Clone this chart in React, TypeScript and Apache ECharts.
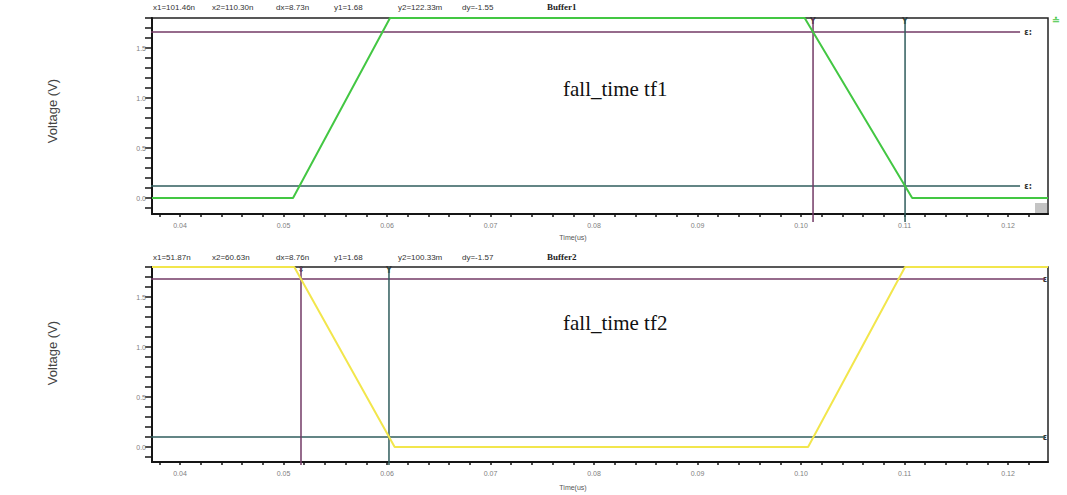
import React, { useEffect, useRef } from "react";
import * as echarts from "echarts";

// ---- axis ticks (time in µs, voltage in V) ----
const xMajorTicks = [0.04, 0.05, 0.06, 0.07, 0.08, 0.09, 0.1, 0.11, 0.12];
const xTickLabels = ["0.04", "0.05", "0.06", "0.07", "0.08", "0.09", "0.10", "0.11", "0.12"];
const yMajorTicks = [0.0, 0.5, 1.0, 1.5];
const yTickLabels = ["0.0", "0.5", "1.0", "1.5"];
const xRange = [0.037295, 0.12386];
const yRange1 = [-0.16, 1.8];
const yRange2 = [-0.15, 1.8];

// ---- waveforms ----
const buffer1Time = [0.037295, 0.05092, 0.06029, 0.10035, 0.11074, 0.12386];
const buffer1Volt = [0.0, 0.0, 1.8, 1.8, 0.0, 0.0];
const buffer2Time = [0.037295, 0.05104, 0.06074, 0.10068, 0.11005, 0.12386];
const buffer2Volt = [1.8, 1.8, 0.0, 0.0, 1.8, 1.8];

// ---- cursors ----
const cursor1X = [0.10116, 0.11005]; // x1, x2
const cursor1Y = [1.66, 0.12]; // y1, y2
const cursor2X = [0.05169, 0.06019];
const cursor2Y = [1.68, 0.1];
const hLineSpan1 = [0.03536, 0.12116];
const hLineSpan2 = [0.03536, 0.1236];
const vLineSpan1 = [1.8, -0.24];
const vLineSpan2 = [1.8, -0.18];

// ---- texts ----
const header1 = ["x1=101.46n", "x2=110.30n", "dx=8.73n", "y1=1.68", "y2=122.33m", "dy=-1.55"];
const header2 = ["x1=51.87n", "x2=60.63n", "dx=8.76n", "y1=1.68", "y2=100.33m", "dy=-1.57"];
const titles = ["Buffer1", "Buffer2"];
const notes = ["fall_time tf1", "fall_time tf2"];

const GREEN = "#43c743";
const YELLOW = "#f2e64c";
const PURPLE = "#733a66";
const TEAL = "#2f5c5c";
const AXIS = "#151515";

function range(a: number, b: number, step: number): number[] {
  const out: number[] = [];
  const n = Math.round((b - a) / step);
  for (let i = 0; i <= n; i++) out.push(Math.round((a + i * step) * 1e6) / 1e6);
  return out;
}
const xMinorTicks = range(0.038, 0.124, 0.002);
const yMinorTicks = range(-0.1, 1.8, 0.1);

function labelFor(ticks: number[], labels: string[]) {
  return (v: number) => {
    const i = ticks.findIndex((t) => Math.abs(t - v) < 1e-6);
    return i >= 0 ? labels[i] : "";
  };
}

const zip = (a: number[], b: number[]) => a.map((v, i) => [v, b[i]]);

export default function App() {
  const ref = useRef<HTMLDivElement>(null);
  useEffect(() => {
    if (!ref.current) return;
    const chart = echarts.init(ref.current, undefined, { renderer: "svg" });

    const mkX = (gi: number) => ({
      type: "value",
      gridIndex: gi,
      min: xRange[0],
      max: xRange[1],
      axisLine: { show: true, onZero: false, lineStyle: { color: AXIS, width: 2 } },
      axisTick: { show: true, customValues: xMinorTicks, length: 3, lineStyle: { color: AXIS, width: 1.5 } },
      axisLabel: {
        customValues: xMajorTicks,
        formatter: labelFor(xMajorTicks, xTickLabels),
        fontSize: 7,
        color: "#808080",
        margin: 8,
        fontFamily: "Liberation Sans",
      },
      splitLine: { show: false },
    });
    const mkY = (gi: number, yr: number[]) => ({
      type: "value",
      gridIndex: gi,
      min: yr[0],
      max: yr[1],
      axisLine: { show: true, onZero: false, lineStyle: { color: AXIS, width: 2 } },
      axisTick: { show: true, customValues: yMinorTicks, length: 7, lineStyle: { color: AXIS, width: 1.5 } },
      axisLabel: {
        customValues: yMajorTicks,
        formatter: labelFor(yMajorTicks, yTickLabels),
        fontSize: 7,
        color: "#808080",
        margin: 6,
        fontFamily: "Liberation Sans",
      },
      splitLine: { show: false },
    });

    const cursorSeries = (gi: number, cx: number[], cy: number[], hs: number[], vs: number[]) => [
      { type: "line", xAxisIndex: gi, yAxisIndex: gi, data: [[hs[0], cy[0]], [hs[1], cy[0]]], clip: false, symbol: "none", lineStyle: { color: PURPLE, width: 1.5 }, z: 2 },
      { type: "line", xAxisIndex: gi, yAxisIndex: gi, data: [[hs[0], cy[1]], [hs[1], cy[1]]], clip: false, symbol: "none", lineStyle: { color: TEAL, width: 1.5 }, z: 2 },
      { type: "line", xAxisIndex: gi, yAxisIndex: gi, data: [[cx[0], vs[0]], [cx[0], vs[1]]], clip: false, symbol: "none", lineStyle: { color: PURPLE, width: 1.5 }, z: 2 },
      { type: "line", xAxisIndex: gi, yAxisIndex: gi, data: [[cx[1], vs[0]], [cx[1], vs[1]]], clip: false, symbol: "none", lineStyle: { color: TEAL, width: 1.5 }, z: 2 },
    ];

    const headerX = [153, 212, 276, 334, 398, 462];
    const headerText = (items: string[], y: number) =>
      items.map((t, i) => ({
        type: "text",
        x: headerX[i],
        y,
        style: { text: t, fontSize: 8, fill: "#333", fontFamily: "Liberation Sans", textVerticalAlign: "middle" },
      }));

    const small = (text: string, x: number, y: number, fill: string, size = 9) => ({
      type: "text",
      x,
      y,
      style: { text, fontSize: size, fill, fontFamily: "DejaVu Sans", fontWeight: "bold", textAlign: "center", textVerticalAlign: "middle" },
    });

    const option = {
      animation: false,
      backgroundColor: "#ffffff",
      grid: [
        { left: 152, top: 18, width: 896, height: 196, show: true, borderColor: "#222", borderWidth: 1.5, backgroundColor: "transparent" },
        { left: 152, top: 267, width: 896, height: 195, show: true, borderColor: "#222", borderWidth: 1.5, backgroundColor: "transparent" },
      ],
      xAxis: [mkX(0), mkX(1)],
      yAxis: [mkY(0, yRange1), mkY(1, yRange2)],
      series: [
        ...cursorSeries(0, cursor1X, cursor1Y, hLineSpan1, vLineSpan1),
        ...cursorSeries(1, cursor2X, cursor2Y, hLineSpan2, vLineSpan2),
        { type: "line", name: titles[0], xAxisIndex: 0, yAxisIndex: 0, data: zip(buffer1Time, buffer1Volt), symbol: "none", lineStyle: { color: GREEN, width: 2 }, z: 4 },
        { type: "line", name: titles[1], xAxisIndex: 1, yAxisIndex: 1, data: zip(buffer2Time, buffer2Volt), symbol: "none", lineStyle: { color: YELLOW, width: 2 }, z: 4 },
      ],
      graphic: [
        ...headerText(header1, 7),
        ...headerText(header2, 257),
        { type: "text", x: 547, y: 7, style: { text: titles[0], fontSize: 9, fontWeight: "bold", fill: "#222", fontFamily: "Liberation Serif", textVerticalAlign: "middle" } },
        { type: "text", x: 547, y: 257, style: { text: titles[1], fontSize: 9, fontWeight: "bold", fill: "#222", fontFamily: "Liberation Serif", textVerticalAlign: "middle" } },
        { type: "text", x: 563, y: 89, style: { text: notes[0], fontSize: 21, fill: "#111", fontFamily: "Liberation Serif", textVerticalAlign: "middle" } },
        { type: "text", x: 563, y: 323, style: { text: notes[1], fontSize: 21, fill: "#111", fontFamily: "Liberation Serif", textVerticalAlign: "middle" } },
        { type: "text", x: 52, y: 111, rotation: Math.PI / 2, style: { text: "Voltage (V)", fontSize: 13, fill: "#444", fontFamily: "Liberation Sans", textAlign: "center", textVerticalAlign: "middle" } },
        { type: "text", x: 52, y: 353, rotation: Math.PI / 2, style: { text: "Voltage (V)", fontSize: 13, fill: "#444", fontFamily: "Liberation Sans", textAlign: "center", textVerticalAlign: "middle" } },
        { type: "text", x: 573, y: 237, style: { text: "Time(us)", fontSize: 7, fill: "#555", fontFamily: "Liberation Sans", textAlign: "center", textVerticalAlign: "middle" } },
        { type: "text", x: 573, y: 487, style: { text: "Time(us)", fontSize: 7, fill: "#555", fontFamily: "Liberation Sans", textAlign: "center", textVerticalAlign: "middle" } },
        { type: "rect", shape: { x: 1035, y: 203, width: 12, height: 11 }, style: { fill: "#c4c4c4" } },
        small("ɛ:", 1028, 32, "#333", 8),
        small("ɛ:", 1028, 186, "#333", 8),
        small("Y", 813, 21, "#333", 8),
        small("Y", 905, 21, "#333", 8),
        small("⇕", 301, 269, "#333", 8),
        small("Y", 389, 270, "#333", 8),
        small("ɛ", 1045, 279, "#333", 8),
        small("ɛ", 1045, 437, "#333", 8),
        small("≐", 1056, 20, GREEN, 10),
      ],
    };
    chart.setOption(option as any);
    return () => chart.dispose();
  }, []);
  return (
    <div
      ref={ref}
      style={{ position: "absolute", left: 0, top: 0, width: 1067, height: 495, background: "#fff" }}
    />
  );
}
